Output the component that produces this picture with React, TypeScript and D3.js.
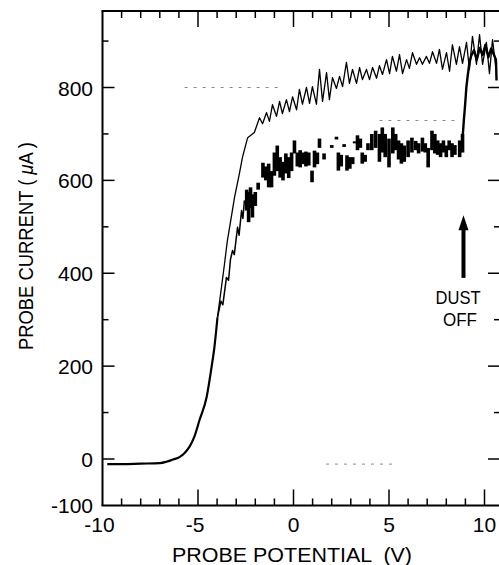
import * as d3 from 'd3'

// shared foot of both traces (probe potential V, current uA)
const footV = [-9.75, -9, -8, -7, -6.65, -6.3, -5.97, -5.7, -5.45, -5.2, -4.92, -4.55, -4.29, -4.14, -3.98]
const footI = [-11, -11, -10, -9, -6, -1, 4, 13, 26, 47, 84, 133, 198, 241, 305]

// clean probe (upper trace)
const upperV = [-3.98, -3.77, -3.61, -3.46, -3.3, -3.09, -2.83, -2.67, -2.4, -2.05, -1.78, -1.62, -1.41, -1.26, -1.1, -0.89, -0.73, -0.58, -0.37, -0.21, -0.05, 0.16, 0.31, 0.47, 0.68, 0.84, 0.99, 1.2, 1.36, 1.52, 1.73, 1.88, 2.04, 2.25, 2.41, 2.57, 2.77, 2.93, 3.09, 3.3, 3.46, 3.61, 3.82, 3.98, 4.14, 4.35, 4.5, 4.66, 4.87, 5.03, 5.18, 5.39, 5.55, 5.71, 5.92, 6.07, 6.23, 6.44, 6.6, 6.75, 6.96, 7.12, 7.28, 7.49, 7.64, 7.8, 8.01, 8.17, 8.32, 8.53, 8.69, 8.85, 9.06, 9.21, 9.37, 9.58, 9.74, 9.9, 10.1, 10.26, 10.42, 10.6]
const upperI = [305, 370, 421, 471, 510, 563, 615, 650, 692, 703, 735, 722, 746, 727, 763, 738, 770, 744, 774, 748, 780, 752, 796, 764, 800, 766, 802, 764, 839, 770, 832, 774, 821, 798, 824, 802, 854, 809, 839, 809, 843, 817, 839, 817, 843, 820, 847, 828, 860, 830, 867, 835, 871, 830, 860, 841, 875, 850, 864, 850, 867, 852, 877, 852, 882, 839, 875, 835, 892, 850, 888, 852, 897, 839, 910, 850, 914, 850, 897, 830, 903, 841, 905]

// dusty probe (lower trace): smooth rise, then scattered bars
const lowerRiseV = [-3.98, -3.8, -3.7, -3.51, -3.4, -3.3, -3.19, -3.1, -2.93, -2.85, -2.72, -2.65, -2.57]
const lowerRiseI = [305, 340, 332, 391, 385, 430, 449, 440, 499, 482, 535, 518, 557]

const barV = [-2.45, -2.35, -2.25, -2.15, -2.0, -1.85, -1.6, -1.45, -1.3, -1.15, -1.0, -0.85, -0.7, -0.55, -0.4, -0.25, -0.1, 0.05, 0.2, 0.35, 0.5, 0.65, 0.8, 0.97, 1.1, 1.25, 1.36, 1.6, 2.0, 2.25, 2.35, 2.5, 2.65, 2.8, 2.95, 3.1, 3.2, 3.35, 3.5, 3.6, 3.75, 3.9, 4.1, 4.3, 4.5, 4.65, 4.8, 5.0, 5.2, 5.35, 5.5, 5.65, 5.8, 6.0, 6.2, 6.4, 6.55, 6.75, 6.9, 7.05, 7.25, 7.4, 7.55, 7.7, 7.85, 8.0, 8.15, 8.3, 8.45, 8.7, 8.85]
const barLo = [535, 510, 540, 520, 545, 580, 606, 600, 585, 585, 610, 620, 606, 600, 615, 605, 620, 658, 630, 628, 635, 630, 632, 596, 628, 635, 670, 645, 670, 688, 621, 630, 672, 621, 625, 635, 680, 665, 670, 636, 640, 665, 665, 670, 640, 660, 650, 628, 658, 665, 645, 636, 640, 650, 660, 665, 658, 662, 660, 628, 665, 658, 655, 650, 660, 650, 665, 650, 655, 650, 660]
const barHi = [580, 575, 585, 570, 575, 595, 638, 630, 636, 620, 660, 675, 650, 640, 658, 650, 660, 686, 660, 665, 660, 662, 660, 621, 664, 660, 690, 658, 676, 694, 660, 655, 678, 654, 650, 650, 684, 697, 690, 660, 655, 680, 700, 707, 700, 714, 700, 690, 714, 700, 686, 680, 675, 686, 692, 685, 680, 692, 680, 670, 707, 700, 686, 680, 686, 675, 686, 680, 676, 686, 700]

// jump after the dust falls off
const jumpV = [8.85, 8.92, 8.98, 9.05, 9.12, 9.2, 9.3, 9.45, 9.6, 9.75, 9.9, 10.05, 10.2, 10.35, 10.5, 10.6, 10.63]
const jumpI = [690, 730, 760, 800, 825, 850, 868, 880, 860, 885, 870, 892, 865, 884, 870, 860, 815]

// faint dotted scan artifacts
const dotI = [800, 729, -11]
const dotFrom = [-5.7, 4.5, 1.7]
const dotTo = [-0.6, 8.5, 5.4]

const xTickLabels = [-10, -5, 0, 5, 10]
const yTickLabels = [-100, 0, 200, 400, 600, 800]
const xMinor = d3.range(-9, 11)
const yMinor = d3.range(0, 1000, 100)

const W = 499
const H = 565
const font = '"Liberation Sans", Arial, sans-serif'

export default function App() {
  const x = d3.scaleLinear().domain([-10, 10]).range([102.5, 484.5])
  const y = d3.scaleLinear().domain([0, 800]).range([459, 87.5])
  const left = x(-10)
  const right = 499
  const top = 11
  const bottom = y(-100)

  const line = d3.line<[number, number]>().x(d => x(d[0])).y(d => y(d[1]))
  const smooth = d3.line<[number, number]>().x(d => x(d[0])).y(d => y(d[1])).curve(d3.curveMonotoneX)
  const zip = (a: number[], b: number[]) => a.map((v, i) => [v, b[i]] as [number, number])

  const arrowV = 8.9
  const ax = x(arrowV)
  const aTop = y(525)
  const aBot = y(390)

  return (
    <svg width={W} height={H} style={{ position: 'absolute', left: 0, top: 0, background: '#fff' }}>
      {/* frame */}
      <g stroke="#000" strokeWidth={2} fill="none">
        <line x1={left} y1={top} x2={left} y2={bottom} />
        <line x1={left - 1} y1={top} x2={right} y2={top} />
        <line x1={left - 1} y1={bottom} x2={right} y2={bottom} />
      </g>
      <g stroke="#000" strokeWidth={1.5}>
        {xMinor.map(v => {
          const len = v % 5 === 0 ? 16 : 7
          return (
            <g key={'xt' + v}>
              <line x1={x(v)} x2={x(v)} y1={top} y2={top + len} />
              <line x1={x(v)} x2={x(v)} y1={bottom} y2={bottom - len} />
            </g>
          )
        })}
        {yMinor.map(v => {
          const major = v % 200 === 0
          return (
            <g key={'yt' + v}>
              <line x1={left} x2={left + (major ? 12 : 6)} y1={y(v)} y2={y(v)} />
              <line x1={right} x2={right - (major ? 11 : 5)} y1={y(v)} y2={y(v)} />
            </g>
          )
        })}
      </g>

      {/* tick labels */}
      <g fontFamily={font} fontSize={21} fill="#000">
        {yTickLabels.map(v => (
          <text key={'yl' + v} x={93} y={y(v) + 8} textAnchor="end">{v}</text>
        ))}
        {xTickLabels.map(v => (
          <text key={'xl' + v} x={x(v) + (v < 0 ? -3 : 0)} y={532} textAnchor="middle">{v}</text>
        ))}
      </g>

      {/* axis titles */}
      <text x={172} y={562} fontFamily={font} fontSize={20} textLength={240} lengthAdjust="spacingAndGlyphs" style={{ whiteSpace: 'pre' }}>
        PROBE POTENTIAL  (V)
      </text>
      <text transform="translate(33,246) rotate(-90)" textAnchor="middle" fontFamily={font} fontSize={20} textLength={208} lengthAdjust="spacingAndGlyphs" style={{ whiteSpace: 'pre' }}>
        PROBE CURRENT ( <tspan fontStyle="italic">μ</tspan>A )
      </text>

      {/* faint artifacts */}
      <g stroke="#888" strokeWidth={1} strokeDasharray="3 6">
        {dotI.map((v, i) => (
          <line key={'d' + i} x1={x(dotFrom[i])} x2={x(dotTo[i])} y1={y(v)} y2={y(v)} />
        ))}
      </g>

      {/* traces */}
      <path d={smooth(zip(footV, footI)) ?? ''} fill="none" stroke="#000" strokeWidth={2.2} strokeLinejoin="round" />
      <path d={line(zip(upperV, upperI)) ?? ''} fill="none" stroke="#000" strokeWidth={1.3} strokeLinejoin="round" />
      <path d={line(zip(lowerRiseV, lowerRiseI)) ?? ''} fill="none" stroke="#000" strokeWidth={1.5} strokeLinejoin="round" />
      <g fill="#000">
        {barV.map((v, i) => (
          <rect key={'b' + i} x={x(v) - 1.8} width={3.6} y={y(barHi[i])} height={Math.max(2, y(barLo[i]) - y(barHi[i]))} />
        ))}
      </g>
      <path d={line(zip(jumpV, jumpI)) ?? ''} fill="none" stroke="#000" strokeWidth={2.4} strokeLinejoin="round" />

      {/* annotation */}
      <line x1={ax} x2={ax} y1={aBot} y2={aTop + 12} stroke="#000" strokeWidth={4} />
      <path d={`M${ax},${aTop} L${ax - 5},${aTop + 15} L${ax + 5},${aTop + 15} Z`} fill="#000" />
      <text x={458} y={304} textAnchor="middle" fontFamily={font} fontSize={18} textLength={45} lengthAdjust="spacingAndGlyphs">DUST</text>
      <text x={460} y={326} textAnchor="middle" fontFamily={font} fontSize={18} textLength={34} lengthAdjust="spacingAndGlyphs">OFF</text>
    </svg>
  )
}
